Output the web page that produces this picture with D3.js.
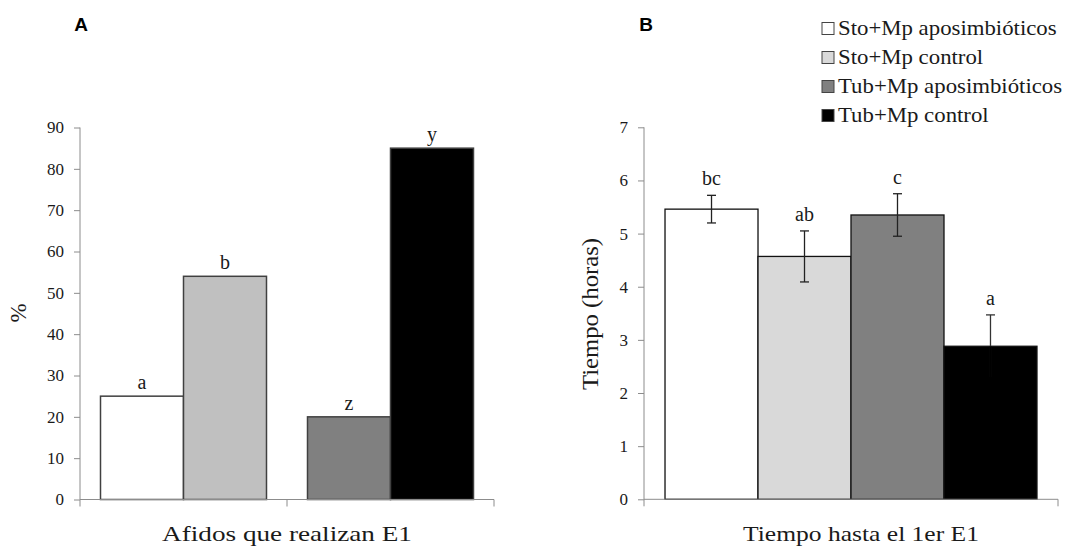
<!DOCTYPE html>
<html>
<head>
<meta charset="utf-8">
<script src="https://cdn.jsdelivr.net/npm/d3@7"></script>
<style>
  html, body { margin: 0; padding: 0; background: #fff; }
</style>
</head>
<body>
<svg id="chart" width="1071" height="552"></svg>
<script>
// ---- data ----
const seriesNames = ["Sto+Mp aposimbióticos", "Sto+Mp control", "Tub+Mp aposimbióticos", "Tub+Mp control"];
const seriesColorsA = ["#ffffff", "#c0c0c0", "#808080", "#000000"];
const seriesColorsB = ["#ffffff", "#d9d9d9", "#808080", "#000000"];

// Panel A: % aphids performing E1
const groupsA = ["Sto", "Tub"];
const valuesA = [25, 54, 20, 85];
const lettersA = ["a", "b", "z", "y"];
const ticksA = [0, 10, 20, 30, 40, 50, 60, 70, 80, 90];

// Panel B: time to first E1 (hours)
const categoryB = ["Tiempo hasta el 1er E1"];
const valuesB = [5.46, 4.57, 5.35, 2.88];
const errorsB = [0.26, 0.48, 0.40, 0.59];
const lettersB = ["bc", "ab", "c", "a"];
const ticksB = [0, 1, 2, 3, 4, 5, 6, 7];

const SERIF = "'Liberation Serif', 'Times New Roman', serif";
const SANS = "'Liberation Sans', Arial, sans-serif";

const svg = d3.select("#chart");
const axisColor = "#8c8c8c";
const textColor = "#1a1a1a";

// helper: horizontally stretched text centred at (cx, y) with target width
function stretchedText(parent, cx, y, str, size, targetW) {
  const g = parent.append("g");
  const t = g.append("text").attr("x", 0).attr("y", 0).attr("text-anchor", "middle")
    .style("font-family", SERIF).attr("font-size", size).attr("fill", textColor).text(str);
  const w = t.node().getComputedTextLength();
  const s = w > 0 ? targetW / w : 1;
  g.attr("transform", `translate(${cx},${y}) scale(${s},1)`);
  return g;
}

// ================= Panel A =================
const yA = d3.scaleLinear().domain([0, 90]).range([499.5, 127.5]);
const xA = d3.scaleBand().domain(groupsA).range([80, 494]).paddingInner(0).paddingOuter(0);
const innerA = d3.scaleBand().domain([0, 1]).range([0, xA.bandwidth()]).paddingInner(0).paddingOuter(0.247);

const gA = svg.append("g");
const barsA = valuesA.map((v, i) => ({ v, i, g: groupsA[Math.floor(i / 2)], k: i % 2, letter: lettersA[i] }));

gA.selectAll("rect.bar").data(barsA).enter().append("rect")
  .attr("x", d => xA(d.g) + innerA(d.k))
  .attr("y", d => yA(d.v))
  .attr("width", innerA.bandwidth())
  .attr("height", d => yA(0) - yA(d.v))
  .attr("fill", d => seriesColorsA[d.i])
  .attr("stroke", "#404040")
  .attr("stroke-width", 1.5);

gA.selectAll("text.lab").data(barsA).enter().append("text")
  .attr("x", d => xA(d.g) + innerA(d.k) + innerA.bandwidth() / 2)
  .attr("y", d => yA(d.v) - 7)
  .attr("text-anchor", "middle")
  .style("font-family", SERIF)
  .attr("font-size", 20)
  .attr("fill", textColor)
  .text(d => d.letter);

// y axis A
const axA = gA.append("g").attr("transform", "translate(80,0)")
  .call(d3.axisLeft(yA).tickValues(ticksA).tickSize(6).tickPadding(10).tickFormat(d3.format("d")));
axA.select(".domain").attr("stroke", axisColor).attr("d", `M0,${yA(90)}V${yA(0)}`);
axA.selectAll(".tick line").attr("stroke", axisColor);
axA.selectAll(".tick text").attr("font-size", 17).attr("fill", textColor)
  .style("font-family", SERIF);

// x axis A
const xAxisA = gA.append("g");
xAxisA.append("line").attr("x1", xA.range()[0]).attr("x2", xA.range()[1])
  .attr("y1", yA(0)).attr("y2", yA(0)).attr("stroke", axisColor);
const boundsA = groupsA.map(g => xA(g)).concat([xA.range()[1]]);
xAxisA.selectAll("line.t").data(boundsA).enter().append("line")
  .attr("x1", d => d).attr("x2", d => d)
  .attr("y1", yA(0)).attr("y2", yA(0) + 7).attr("stroke", axisColor);

stretchedText(gA, 287, 541, "Afidos que realizan E1", 22, 250);
gA.append("text").attr("transform", "translate(26,313) rotate(-90)").attr("text-anchor", "middle")
  .style("font-family", SERIF).attr("font-size", 23).attr("fill", textColor).text("%");

svg.append("text").attr("x", 81).attr("y", 31).attr("text-anchor", "middle")
  .style("font-family", SANS).attr("font-weight", "bold")
  .attr("font-size", 19).attr("fill", "#000").text("A");

// ================= Panel B =================
const yB = d3.scaleLinear().domain([0, 7]).range([499.3, 127.3]);
const xB = d3.scaleBand().domain(categoryB).range([644, 1058]).paddingInner(0).paddingOuter(0);
const innerB = d3.scaleBand().domain([0, 1, 2, 3]).range([0, xB.bandwidth()]).paddingInner(0).paddingOuter(0.226);

const gB = svg.append("g");
const barsB = valuesB.map((v, i) => ({ v, i, e: errorsB[i], letter: lettersB[i] }));
const bxB = d => xB(categoryB[0]) + innerB(d.i);
const cxB = d => bxB(d) + innerB.bandwidth() / 2;

gB.selectAll("rect.bar").data(barsB).enter().append("rect")
  .attr("x", bxB)
  .attr("y", d => yB(d.v))
  .attr("width", innerB.bandwidth())
  .attr("height", d => yB(0) - yB(d.v))
  .attr("fill", d => seriesColorsB[d.i])
  .attr("stroke", "#111")
  .attr("stroke-width", 1.3);

const eb = gB.selectAll("g.err").data(barsB).enter().append("g")
  .attr("stroke", d => d.i === 3 ? "#333" : "#222").attr("stroke-width", 1.3);
eb.append("line")
  .attr("x1", cxB).attr("x2", cxB)
  .attr("y1", d => yB(d.v + d.e)).attr("y2", d => yB(d.v - d.e));
eb.append("line")
  .attr("x1", d => cxB(d) - 4.5).attr("x2", d => cxB(d) + 4.5)
  .attr("y1", d => yB(d.v + d.e)).attr("y2", d => yB(d.v + d.e));
eb.append("line")
  .attr("x1", d => cxB(d) - 4.5).attr("x2", d => cxB(d) + 4.5)
  .attr("y1", d => yB(d.v - d.e)).attr("y2", d => yB(d.v - d.e))
  .attr("stroke", d => d.i === 3 ? "#000" : "#222");
// lower whisker of black bar is black-on-black
eb.filter(d => d.i === 3).append("line")
  .attr("x1", cxB).attr("x2", cxB)
  .attr("y1", d => yB(d.v)).attr("y2", d => yB(d.v - d.e))
  .attr("stroke", "#000").attr("stroke-width", 2);

gB.selectAll("text.lab").data(barsB).enter().append("text")
  .attr("x", cxB)
  .attr("y", d => yB(d.v + d.e) - 10)
  .attr("text-anchor", "middle")
  .style("font-family", SERIF)
  .attr("font-size", 20)
  .attr("fill", textColor)
  .text(d => d.letter);

const axB = gB.append("g").attr("transform", "translate(644,0)")
  .call(d3.axisLeft(yB).tickValues(ticksB).tickSize(6).tickPadding(10).tickFormat(d3.format("d")));
axB.select(".domain").attr("stroke", axisColor).attr("d", `M0,${yB(7)}V${yB(0)}`);
axB.selectAll(".tick line").attr("stroke", axisColor);
axB.selectAll(".tick text").attr("font-size", 17).attr("fill", textColor)
  .style("font-family", SERIF);

const xAxisB = gB.append("g");
xAxisB.append("line").attr("x1", xB.range()[0]).attr("x2", xB.range()[1])
  .attr("y1", yB(0)).attr("y2", yB(0)).attr("stroke", axisColor);
const boundsB = categoryB.map(c => xB(c)).concat([xB.range()[1]]);
xAxisB.selectAll("line.t").data(boundsB).enter().append("line")
  .attr("x1", d => d).attr("x2", d => d)
  .attr("y1", yB(0)).attr("y2", yB(0) + 7).attr("stroke", axisColor);

stretchedText(gB, 861, 541, categoryB[0], 22, 236);
gB.append("text").attr("transform", "translate(598,314) rotate(-90)").attr("text-anchor", "middle")
  .style("font-family", SERIF).attr("font-size", 23).attr("fill", textColor)
  .attr("textLength", 152).attr("lengthAdjust", "spacingAndGlyphs")
  .text("Tiempo (horas)");

svg.append("text").attr("x", 646).attr("y", 31).attr("text-anchor", "middle")
  .style("font-family", SANS).attr("font-weight", "bold")
  .attr("font-size", 19).attr("fill", "#000").text("B");

// ================= Legend =================
const legend = svg.append("g");
const legItems = legend.selectAll("g").data(seriesNames).enter().append("g")
  .attr("transform", (d, i) => `translate(822,${28.5 + i * 29})`);
legItems.append("rect").attr("x", 0).attr("y", -6).attr("width", 12).attr("height", 12)
  .attr("fill", (d, i) => seriesColorsB[i]).attr("stroke", "#444").attr("stroke-width", 1);
legItems.append("g").attr("transform", "translate(16,0) scale(1.14,1)")
  .append("text").attr("x", 0).attr("y", 6.5)
  .style("font-family", SERIF).attr("font-size", 20).attr("fill", textColor)
  .text(d => d);
</script>
</body>
</html>
